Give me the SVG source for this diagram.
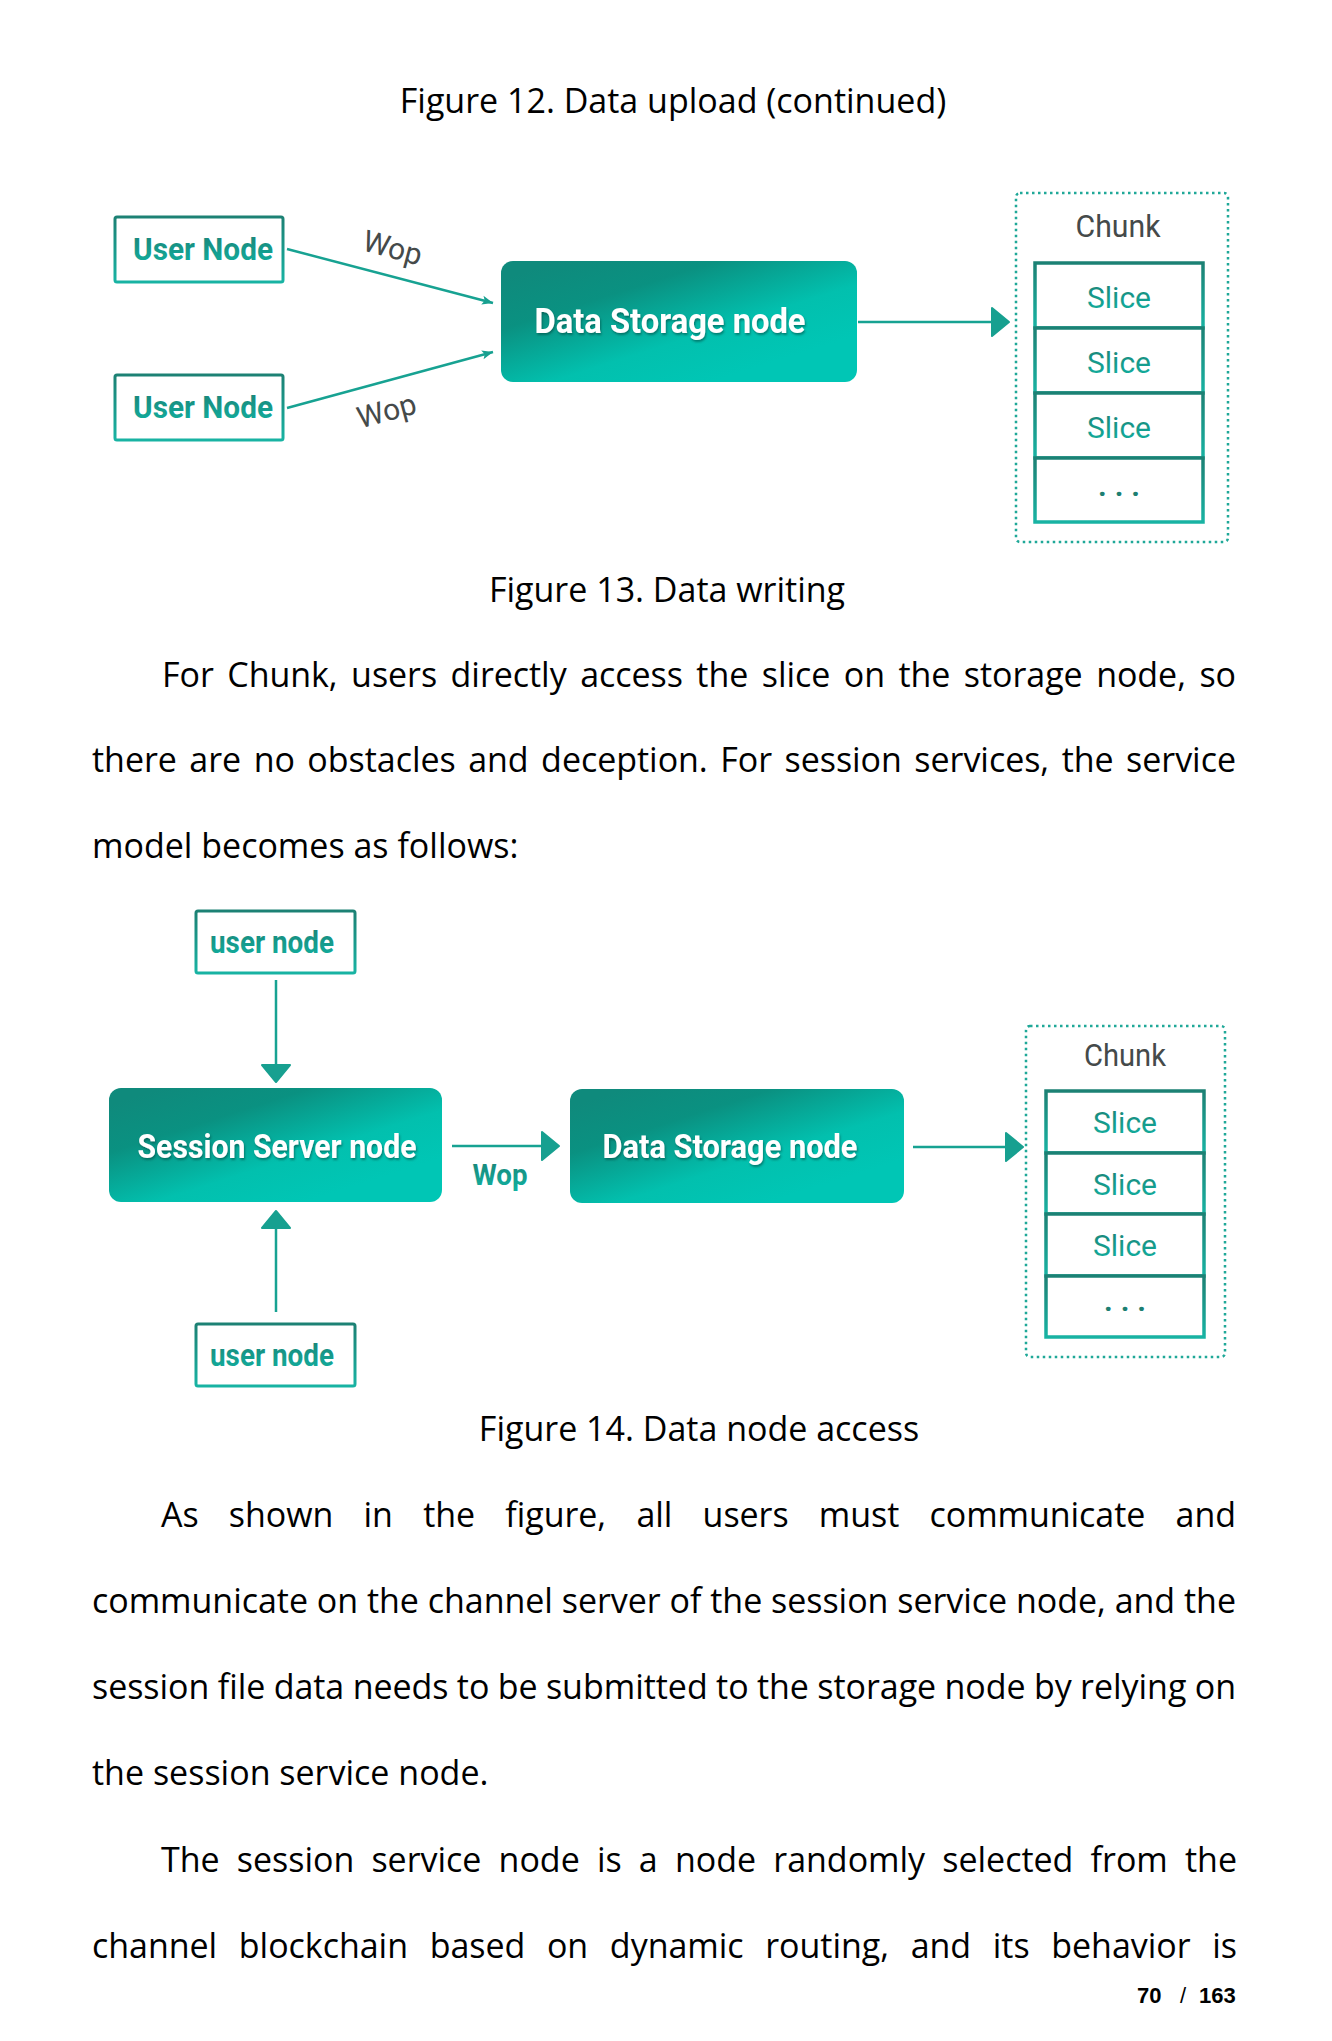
<svg xmlns="http://www.w3.org/2000/svg" width="1332" height="2041" viewBox="0 0 1332 2041">
<style>
.para{font-family:"Open Sans","Noto Sans",sans-serif;font-size:34px;fill:#000}
.cap{font-family:"Open Sans","Noto Sans",sans-serif;font-size:34px;fill:#000;text-anchor:middle}
.ulab{font-family:Roboto,"Liberation Sans",sans-serif;font-weight:700;font-size:31px;fill:url(#ink);text-anchor:middle}
.wlab{font-family:Roboto,"Liberation Sans",sans-serif;font-weight:700;fill:#fff;text-anchor:middle;filter:url(#tsh)}
.slice{font-family:Roboto,"Liberation Sans",sans-serif;font-size:30px;fill:url(#ink);text-anchor:middle}
.chunk{font-family:Roboto,"Liberation Sans",sans-serif;font-size:31px;fill:#454a4a;text-anchor:middle}
.wop{font-family:Roboto,"Liberation Sans",sans-serif;font-size:30px;fill:#454a4a;text-anchor:middle}
.wopb{font-family:Roboto,"Liberation Sans",sans-serif;font-size:30px;font-weight:700;fill:url(#ink);text-anchor:middle}
.dots{font-family:Roboto,"Liberation Sans",sans-serif;font-size:30px;font-weight:700;fill:#1d7f72;text-anchor:middle;letter-spacing:8px}
.ubox{fill:#fff;stroke:url(#edge);stroke-width:3}
.sbox{fill:#fff;stroke:url(#edge);stroke-width:3.5}
.tbox{fill:url(#teal)}
.chunkbox{fill:none;stroke:#1fa898;stroke-width:2.5;stroke-dasharray:2.5 3.5}
.conn{stroke:#17a292;stroke-width:2.5;fill:none}
.pg{font-family:"Liberation Sans",Arial,sans-serif;font-weight:700;font-size:22px;fill:#000}
</style>
<defs>
<linearGradient id="teal" x1="0.05" y1="0.1" x2="0.75" y2="0.85">
<stop offset="0" stop-color="#0f8a7c"/>
<stop offset="0.3" stop-color="#0a9181"/>
<stop offset="0.7" stop-color="#02c0ae"/>
<stop offset="1" stop-color="#00c6b5"/>
</linearGradient>
<linearGradient id="edge" x1="0" y1="0" x2="0" y2="1">
<stop offset="0" stop-color="#1c8174"/>
<stop offset="1" stop-color="#18b3a3"/>
</linearGradient>
<linearGradient id="ink" x1="0" y1="0" x2="0" y2="1">
<stop offset="0" stop-color="#1b8074"/>
<stop offset="1" stop-color="#10b4a3"/>
</linearGradient>
<filter id="tsh" x="-10%" y="-30%" width="120%" height="160%">
<feDropShadow dx="1" dy="2" stdDeviation="0.8" flood-color="#06463f" flood-opacity="0.55"/>
</filter>
<marker id="big" markerUnits="userSpaceOnUse" markerWidth="22" markerHeight="32" viewBox="0 0 22 32" refX="1" refY="16" orient="auto" overflow="visible">
<path d="M1,2 L18,16 L1,30 Z" fill="#17a090" stroke="#17a090" stroke-width="2" stroke-linejoin="round"/>
</marker>
<marker id="small" markerUnits="userSpaceOnUse" markerWidth="12" markerHeight="10" viewBox="0 0 12 10" refX="11" refY="5" orient="auto" overflow="visible">
<path d="M0,0.5 L11,5 L0,9.5 L2.5,5 Z" fill="#17a090"/>
</marker>
</defs>
<rect width="1332" height="2041" fill="#fff"/>

<text class="cap" x="673" y="113">Figure 12. Data upload (continued)</text>

<g id="connectors1">
<line class="conn" x1="287" y1="249" x2="493" y2="303" marker-end="url(#small)"/>
<line class="conn" x1="287" y1="408" x2="493" y2="352" marker-end="url(#small)"/>
<line class="conn" x1="858" y1="322" x2="992" y2="322" marker-end="url(#big)"/>
<text class="wop" transform="translate(392,250) rotate(15)" x="0" y="8">Wop</text>
<text class="wop" transform="translate(387,412) rotate(-15)" x="0" y="9">Wop</text>
</g>

<g id="user-node-1">
<rect class="ubox" x="115" y="217" width="168" height="65" rx="2"/>
<text class="ulab" x="203" y="260" textLength="140" lengthAdjust="spacingAndGlyphs">User Node</text>
</g>
<g id="user-node-2">
<rect class="ubox" x="115" y="375" width="168" height="65" rx="2"/>
<text class="ulab" x="203" y="418" textLength="140" lengthAdjust="spacingAndGlyphs">User Node</text>
</g>
<g id="data-storage-node-1">
<rect class="tbox" x="501" y="261" width="356" height="121" rx="12"/>
<text class="wlab" x="670" y="333" font-size="35" textLength="271" lengthAdjust="spacingAndGlyphs">Data Storage node</text>
</g>
<g id="chunk-1">
<rect class="chunkbox" x="1016" y="193" width="212" height="349" rx="4"/>
<text class="chunk" x="1118" y="237" textLength="85" lengthAdjust="spacingAndGlyphs">Chunk</text>
<rect class="sbox" x="1035" y="263" width="168" height="65"/>
<rect class="sbox" x="1035" y="328" width="168" height="65"/>
<rect class="sbox" x="1035" y="393" width="168" height="65"/>
<rect class="sbox" x="1035" y="458" width="168" height="64"/>
<text class="slice" x="1119" y="308">Slice</text>
<text class="slice" x="1119" y="373">Slice</text>
<text class="slice" x="1119" y="438">Slice</text>
<text class="dots" x="1123" y="496">...</text>
</g>

<text class="cap" x="667" y="602">Figure 13. Data writing</text>

<text class="para" x="162" y="687" word-spacing="4.7" textLength="1074" lengthAdjust="spacing">For Chunk, users directly access the slice on the storage node, so</text>
<text class="para" x="92" y="772" word-spacing="3.7" textLength="1144" lengthAdjust="spacing">there are no obstacles and deception. For session services, the service</text>
<text class="para" x="92" y="858">model becomes as follows:</text>

<g id="connectors2">
<line class="conn" x1="276" y1="980" x2="276" y2="1065" marker-end="url(#big)"/>
<line class="conn" x1="276" y1="1312" x2="276" y2="1228" marker-end="url(#big)"/>
<line class="conn" x1="452" y1="1146" x2="542" y2="1146" marker-end="url(#big)"/>
<line class="conn" x1="913" y1="1147" x2="1006" y2="1147" marker-end="url(#big)"/>
<text class="wopb" x="500" y="1185" textLength="55" lengthAdjust="spacingAndGlyphs">Wop</text>
</g>

<g id="user-node-top">
<rect class="ubox" x="196" y="911" width="159" height="62" rx="2"/>
<text class="ulab" x="272" y="953" textLength="124" lengthAdjust="spacingAndGlyphs">user node</text>
</g>
<g id="session-server-node">
<rect class="tbox" x="109" y="1088" width="333" height="114" rx="12"/>
<text class="wlab" x="277" y="1158" font-size="33" textLength="279" lengthAdjust="spacingAndGlyphs">Session Server node</text>
</g>
<g id="user-node-bottom">
<rect class="ubox" x="196" y="1324" width="159" height="62" rx="2"/>
<text class="ulab" x="272" y="1366" textLength="124" lengthAdjust="spacingAndGlyphs">user node</text>
</g>
<g id="data-storage-node-2">
<rect class="tbox" x="570" y="1089" width="334" height="114" rx="12"/>
<text class="wlab" x="730" y="1158" font-size="33" textLength="255" lengthAdjust="spacingAndGlyphs">Data Storage node</text>
</g>
<g id="chunk-2">
<rect class="chunkbox" x="1026" y="1026" width="199" height="331" rx="4"/>
<text class="chunk" x="1125" y="1066" textLength="82" lengthAdjust="spacingAndGlyphs">Chunk</text>
<rect class="sbox" x="1046" y="1091" width="158" height="62"/>
<rect class="sbox" x="1046" y="1153" width="158" height="61"/>
<rect class="sbox" x="1046" y="1214" width="158" height="62"/>
<rect class="sbox" x="1046" y="1276" width="158" height="61"/>
<text class="slice" x="1125" y="1133">Slice</text>
<text class="slice" x="1125" y="1195">Slice</text>
<text class="slice" x="1125" y="1256">Slice</text>
<text class="dots" x="1129" y="1311">...</text>
</g>

<text class="cap" x="699" y="1441">Figure 14. Data node access</text>

<text class="para" x="161" y="1527" word-spacing="21.5" textLength="1075" lengthAdjust="spacing">As shown in the figure, all users must communicate and</text>
<text class="para" x="92" y="1613" word-spacing="0.1" textLength="1144" lengthAdjust="spacing">communicate on the channel server of the session service node, and the</text>
<text class="para" x="92" y="1699" word-spacing="-0.4" textLength="1144" lengthAdjust="spacing">session file data needs to be submitted to the storage node by relying on</text>
<text class="para" x="92" y="1785">the session service node.</text>
<text class="para" x="161" y="1872" word-spacing="8.4" textLength="1076" lengthAdjust="spacing">The session service node is a node randomly selected from the</text>
<text class="para" x="92" y="1958" word-spacing="12.9" textLength="1145" lengthAdjust="spacing">channel blockchain based on dynamic routing, and its behavior is</text>

<text class="pg" y="2003"><tspan x="1137">70</tspan><tspan x="1180" font-weight="400">/</tspan><tspan x="1199">163</tspan></text>
</svg>
